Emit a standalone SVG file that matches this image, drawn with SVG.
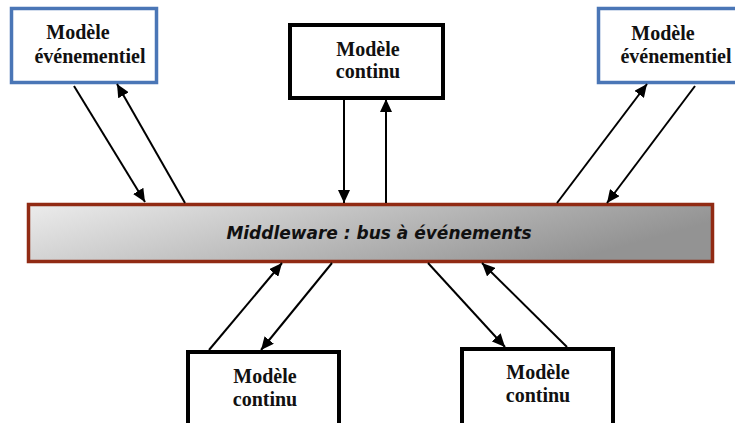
<svg xmlns="http://www.w3.org/2000/svg" width="735" height="423" viewBox="0 0 735 423">
  <style>
    .blue { fill: #ffffff; stroke: #4a76b6; stroke-width: 3.5; }
    .black { fill: #ffffff; stroke: #000000; stroke-width: 4; }
    .lbl { font-family: "Liberation Serif", "Times New Roman", serif; font-weight: bold; font-size: 20px; fill: #111111; text-anchor: middle; }
    .bus-lbl { font-family: "DejaVu Sans", "Liberation Sans", sans-serif; font-weight: bold; font-style: italic; font-size: 17px; fill: #111111; text-anchor: middle; }
    .conn { stroke: #000000; stroke-width: 2; fill: none; marker-end: url(#arrow); }
  </style>
  <defs>
    <linearGradient id="busGrad" x1="0" y1="0" x2="1" y2="0.3">
      <stop offset="0" stop-color="#ececec"/>
      <stop offset="1" stop-color="#939393"/>
    </linearGradient>
    <marker id="arrow" markerUnits="userSpaceOnUse" markerWidth="14" markerHeight="12" refX="13" refY="6" orient="auto">
      <path d="M0,0 L13,6 L0,12 Z" fill="#000000"/>
    </marker>
  </defs>
  <rect width="735" height="423" fill="#ffffff"/>

  <g id="bus">
    <rect x="28.5" y="204.5" width="684" height="57" fill="url(#busGrad)" stroke="#912a13" stroke-width="3.5"/>
    <text class="bus-lbl" x="379" y="239">Middleware : bus à événements</text>
  </g>

  <g id="evt-left">
    <rect class="blue" x="11.5" y="8.5" width="145" height="74"/>
    <text class="lbl" x="78" y="39">Modèle</text>
    <text class="lbl" x="90" y="63">événementiel</text>
  </g>

  <g id="evt-right">
    <rect class="blue" x="598.5" y="8.5" width="150" height="74"/>
    <text class="lbl" x="663" y="40">Modèle</text>
    <text class="lbl" x="676" y="63">événementiel</text>
  </g>

  <g id="cont-top">
    <rect class="black" x="290" y="25" width="153" height="73"/>
    <text class="lbl" x="368" y="56">Modèle</text>
    <text class="lbl" x="368" y="78">continu</text>
  </g>

  <g id="cont-bottom-left">
    <rect class="black" x="188" y="352" width="151" height="90"/>
    <text class="lbl" x="265" y="383">Modèle</text>
    <text class="lbl" x="265" y="406">continu</text>
  </g>

  <g id="cont-bottom-right">
    <rect class="black" x="462" y="349" width="151" height="90"/>
    <text class="lbl" x="538" y="379">Modèle</text>
    <text class="lbl" x="538" y="402">continu</text>
  </g>

  <g id="connectors">
    <line class="conn" x1="74" y1="86" x2="145" y2="202"/>
    <line class="conn" x1="185" y1="203" x2="117" y2="84"/>
    <line class="conn" x1="344" y1="100" x2="344" y2="203"/>
    <line class="conn" x1="386" y1="203" x2="386" y2="99"/>
    <line class="conn" x1="557" y1="203" x2="647" y2="84"/>
    <line class="conn" x1="695" y1="86" x2="607" y2="203"/>
    <line class="conn" x1="209" y1="350" x2="282" y2="263"/>
    <line class="conn" x1="332" y1="263" x2="261" y2="350"/>
    <line class="conn" x1="428" y1="263" x2="505" y2="347"/>
    <line class="conn" x1="567" y1="347" x2="482" y2="263"/>
  </g>
</svg>
